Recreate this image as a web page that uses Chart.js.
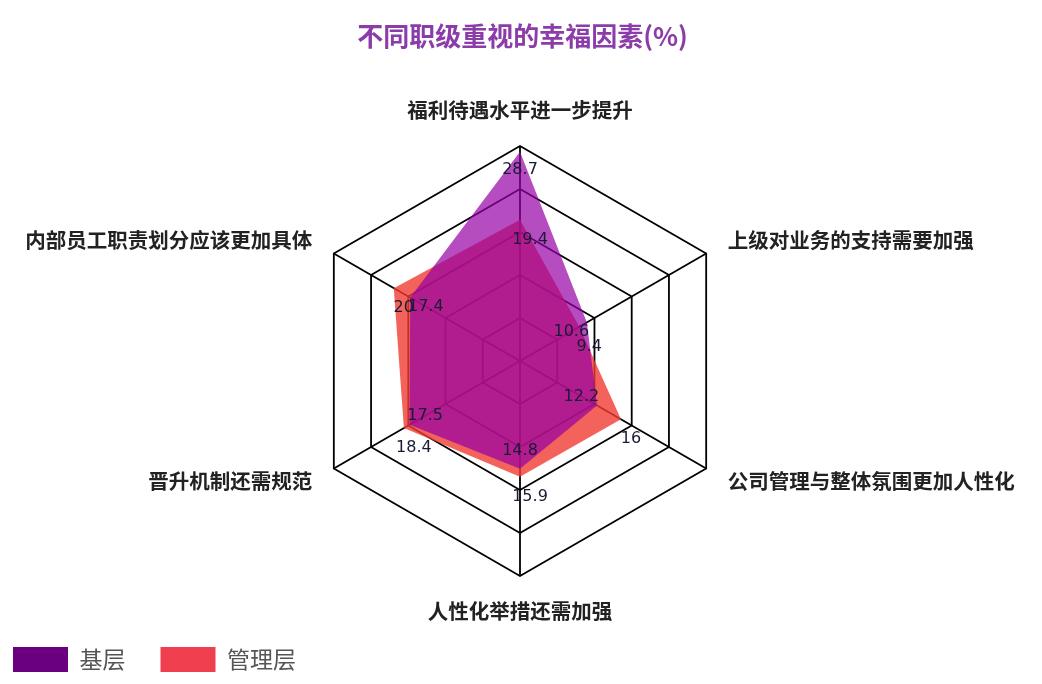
<!DOCTYPE html>
<html>
<head>
<meta charset="utf-8">
<script src="https://cdn.jsdelivr.net/npm/chart.js@4"></script>
<style>
  html, body { margin: 0; padding: 0; background: #fff; }
  #wrap { width: 1042px; height: 684px; }
</style>
</head>
<body>
<div id="wrap"><canvas id="myChart"></canvas></div>
<script>
const factors = ['福利待遇水平进一步提升', '上级对业务的支持需要加强', '公司管理与整体氛围更加人性化', '人性化举措还需加强', '晋升机制还需规范', '内部员工职责划分应该更加具体'];
const jiceng = [28.7, 10.6, 12.2, 14.8, 17.5, 17.4];
const guanli = [19.4, 9.4, 16, 15.9, 18.4, 20];
const seriesNames = ['基层', '管理层'];

const cjk = "'Noto Sans CJK SC', 'Noto Sans', sans-serif";
const legendColors = ['#6a007f', '#f0404f'];

// value labels next to each vertex
const valueLabels = {
  id: 'valueLabels',
  afterDatasetsDraw(chart) {
    const ctx = chart.ctx;
    const r = chart.scales.r;
    ctx.save();
    ctx.font = "16px 'DejaVu Sans', sans-serif";
    ctx.fillStyle = '#1a1a36';
    ctx.textAlign = 'center';
    ctx.textBaseline = 'middle';
    chart.data.datasets.forEach((ds, di) => {
      const meta = chart.getDatasetMeta(di);
      meta.data.forEach((pt, i) => {
        let x = pt.x, y = pt.y;
        if (di === 0) {
          const dx = r.xCenter - x, dy = r.yCenter - y;
          const d = Math.sqrt(dx * dx + dy * dy) || 1;
          x += dx / d * 18;
          y += dy / d * 18;
        } else {
          x += 10;
          y += 20;
        }
        ctx.fillText(String(ds.data[i]), x, y);
      });
    });
    ctx.restore();
  }
};

const ctx = document.getElementById('myChart').getContext('2d');
new Chart(ctx, {
  type: 'radar',
  data: {
    labels: factors,
    datasets: [{
      label: seriesNames[0],
      data: jiceng,
      backgroundColor: 'rgba(150, 0, 165, 0.7)',
      borderWidth: 0,
      pointRadius: 0,
      fill: true
    }, {
      label: seriesNames[1],
      data: guanli,
      backgroundColor: 'rgba(240, 60, 50, 0.8)',
      borderWidth: 0,
      pointRadius: 0,
      fill: true
    }]
  },
  options: {
    responsive: true,
    maintainAspectRatio: false,
    animation: false,
    layout: { padding: { left: -22, right: -25, top: 0, bottom: 2 } },
    plugins: {
      title: {
        display: true,
        text: '不同职级重视的幸福因素(%)',
        color: '#8c3ca8',
        font: { family: cjk, size: 26, weight: 'bold' },
        padding: { top: 21, bottom: 57.8 }
      },
      legend: {
        position: 'bottom',
        align: 'start',
        labels: {
          boxWidth: 55,
          boxHeight: 25,
          padding: 35,
          color: '#555',
          font: { family: cjk, size: 23 },
          generateLabels: chart => Chart.defaults.plugins.legend.labels.generateLabels(chart).map((l, i) => ({
            ...l, fillStyle: legendColors[i], strokeStyle: legendColors[i], lineWidth: 0
          }))
        }
      },
      tooltip: { enabled: false }
    },
    scales: {
      r: {
        min: 0,
        max: 29.5,
        ticks: { display: false, count: 6 },
        grid: { color: '#000', lineWidth: 1.8 },
        angleLines: { color: '#000', lineWidth: 1.8 },
        pointLabels: {
          color: '#222',
          font: { family: cjk, size: 20.5, weight: 'bold', lineHeight: 0.05 },
          padding: c => (c.index === 0 || c.index === 3) ? 35 : 25
        }
      }
    }
  },
  plugins: [valueLabels]
});
</script>
</body>
</html>
